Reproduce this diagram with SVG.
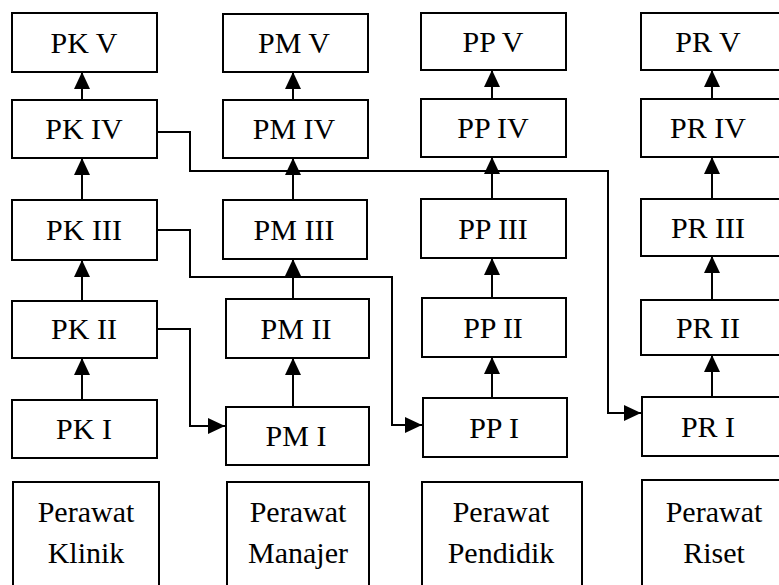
<svg xmlns="http://www.w3.org/2000/svg" width="779" height="585" viewBox="0 0 779 585">
<style>
rect{fill:#fff;stroke:#000;stroke-width:2}
text{font-family:"Liberation Serif","Times New Roman",serif;font-size:30px;fill:#000;text-anchor:middle}
.c{fill:none;stroke:#000;stroke-width:2}
</style>
<defs>
<marker id="a" markerUnits="userSpaceOnUse" markerWidth="17" markerHeight="16" refX="17" refY="8" orient="auto">
<path d="M0,0 L17,8 L0,16 z" fill="#000"/>
</marker>
</defs>
<rect width="779" height="585" style="fill:#fff;stroke:none"/>
<g id="connectors">
<path class="c" d="M82,400 V358" marker-end="url(#a)"/>
<path class="c" d="M82,301 V260" marker-end="url(#a)"/>
<path class="c" d="M82,200 V158" marker-end="url(#a)"/>
<path class="c" d="M82,100 V72" marker-end="url(#a)"/>
<path class="c" d="M293,407 V358" marker-end="url(#a)"/>
<path class="c" d="M293,299 V259" marker-end="url(#a)"/>
<path class="c" d="M293,200 V158" marker-end="url(#a)"/>
<path class="c" d="M293,100 V72" marker-end="url(#a)"/>
<path class="c" d="M492,398 V357" marker-end="url(#a)"/>
<path class="c" d="M492,298 V258" marker-end="url(#a)"/>
<path class="c" d="M492,199 V157" marker-end="url(#a)"/>
<path class="c" d="M492,99 V70" marker-end="url(#a)"/>
<path class="c" d="M712,397 V355" marker-end="url(#a)"/>
<path class="c" d="M712,300 V256" marker-end="url(#a)"/>
<path class="c" d="M712,199 V157" marker-end="url(#a)"/>
<path class="c" d="M712,99 V70" marker-end="url(#a)"/>
<path class="c" d="M157,132 H190 V171 H608 V413 H641" marker-end="url(#a)"/>
<path class="c" d="M157,230 H190 V277 H392 V425 H422" marker-end="url(#a)"/>
<path class="c" d="M157,329 H190 V426 H225" marker-end="url(#a)"/>
</g>
<g id="pk5"><rect x="12" y="13" width="145" height="59"/><text x="84" y="53">PK V</text></g>
<g id="pk4"><rect x="12" y="100" width="145" height="58"/><text x="84" y="139">PK IV</text></g>
<g id="pk3"><rect x="12" y="200" width="145" height="60"/><text x="84" y="240">PK III</text></g>
<g id="pk2"><rect x="12" y="301" width="145" height="57"/><text x="84" y="339">PK II</text></g>
<g id="pk1"><rect x="12" y="400" width="145" height="58"/><text x="84" y="439">PK I</text></g>
<g id="pk"><rect x="13" y="482" width="146" height="120"/><text x="86" y="522">Perawat</text><text x="86" y="563">Klinik</text></g>
<g id="pm5"><rect x="223" y="14" width="145" height="58"/><text x="294" y="53">PM V</text></g>
<g id="pm4"><rect x="223" y="100" width="145" height="58"/><text x="294" y="139">PM IV</text></g>
<g id="pm3"><rect x="223" y="200" width="144" height="59"/><text x="294" y="240">PM III</text></g>
<g id="pm2"><rect x="226" y="299" width="143" height="59"/><text x="296" y="339">PM II</text></g>
<g id="pm1"><rect x="226" y="407" width="143" height="58"/><text x="296" y="446">PM I</text></g>
<g id="pm"><rect x="227" y="482" width="142" height="120"/><text x="298" y="522">Perawat</text><text x="298" y="563">Manajer</text></g>
<g id="pp5"><rect x="421" y="13" width="145" height="57"/><text x="493" y="52">PP V</text></g>
<g id="pp4"><rect x="421" y="99" width="145" height="58"/><text x="493" y="138">PP IV</text></g>
<g id="pp3"><rect x="421" y="199" width="145" height="59"/><text x="493" y="239">PP III</text></g>
<g id="pp2"><rect x="422" y="298" width="144" height="59"/><text x="493" y="338">PP II</text></g>
<g id="pp1"><rect x="423" y="398" width="144" height="59"/><text x="494" y="438">PP I</text></g>
<g id="pp"><rect x="422" y="482" width="160" height="120"/><text x="501" y="522">Perawat</text><text x="501" y="563">Pendidik</text></g>
<g id="pr5"><rect x="641" y="13" width="150" height="57"/><text x="708" y="52">PR V</text></g>
<g id="pr4"><rect x="641" y="99" width="150" height="58"/><text x="708" y="138">PR IV</text></g>
<g id="pr3"><rect x="641" y="199" width="150" height="57"/><text x="708" y="238">PR III</text></g>
<g id="pr2"><rect x="641" y="300" width="150" height="55"/><text x="708" y="338">PR II</text></g>
<g id="pr1"><rect x="642" y="397" width="150" height="59"/><text x="708" y="437">PR I</text></g>
<g id="pr"><rect x="642" y="480" width="150" height="122"/><text x="714" y="522">Perawat</text><text x="714" y="563">Riset</text></g>
</svg>
